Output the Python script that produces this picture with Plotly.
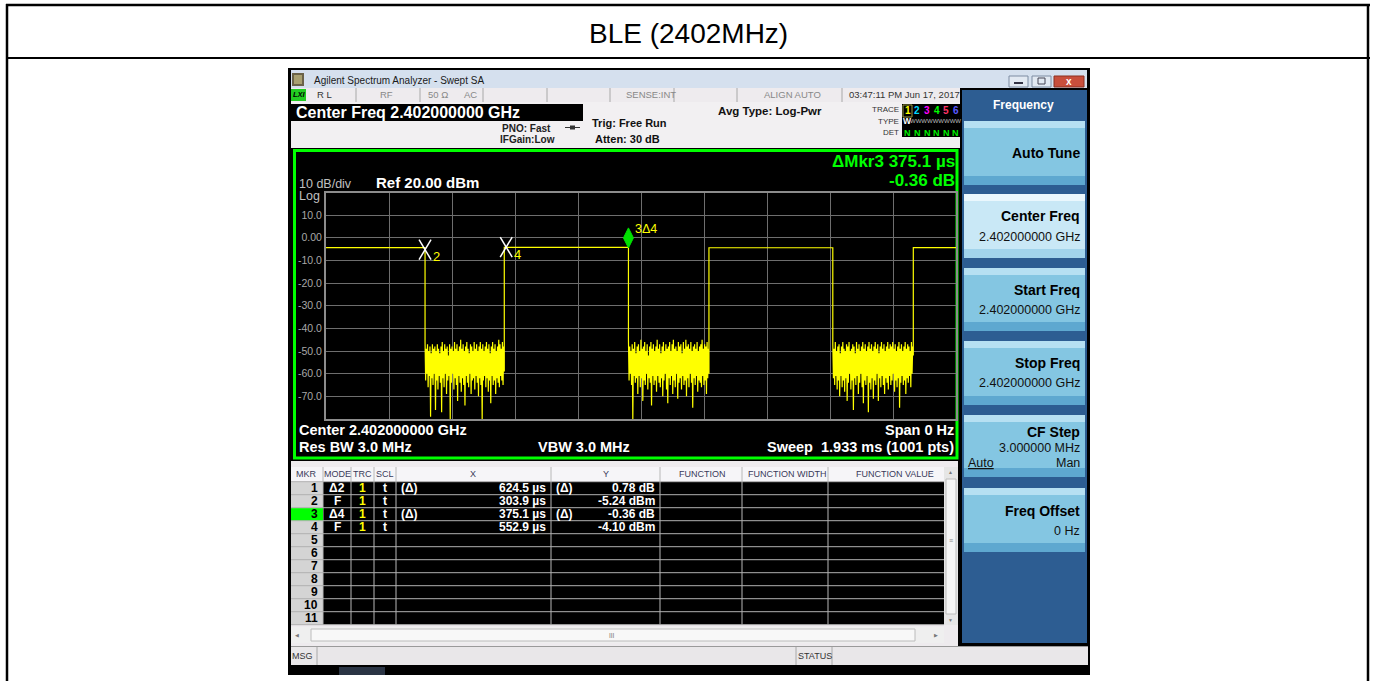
import numpy as np
import plotly.graph_objects as go

W, H = 1376, 681
FONT = "Liberation Sans"

# ---------------- data ----------------
sweep_ms = 1.933
y_range = [-80, 20]
y_tick_vals = [10, 0, -10, -20, -30, -40, -50, -60, -70]
y_tick_text = ["10.0", "0.00", "-10.0", "-20.0", "-30.0", "-40.0", "-50.0", "-60.0", "-70.0"]

burst_start_us = [0.0, 547.0, 1175.0, 1802.0]
burst_end_us = [303.9, 928.0, 1555.0, 1933.0]
burst_level_dbm = [-4.3, -4.2, -4.4, -4.3]

gap1_dbm = [-46, -63, -49, -60, -47, -66, -50, -61, -48, -79, -51, -62, -47, -65, -49, -60, -48, -76, -50, -63,
            -47, -67, -49, -61, -51, -64, -48, -77, -46, -62, -50, -66, -47, -60, -49, -69, -48, -63, -52, -61,
            -47, -80, -49, -64, -48, -60, -50, -67, -46, -62, -49, -65, -47, -72, -50, -61, -48, -64, -45, -68,
            -49, -62, -47, -65, -50, -74, -48, -61, -46, -64, -49, -66, -51, -60, -47, -69, -48, -63, -50, -62,
            -46, -67, -49, -61, -47, -64, -50, -70, -48, -62, -46, -65, -49, -80, -47, -63, -50, -61, -48, -66,
            -46, -62, -49, -68, -47, -63, -51, -73, -48, -61, -46, -65, -49, -63, -47, -69, -50, -62, -48, -64,
            -45, -66, -47, -61, -49, -63, -46, -65, -48, -59]
gap2_dbm = [-45, -63, -48, -60, -50, -65, -47, -80, -49, -61, -46, -64, -51, -62, -48, -69, -47, -61, -50, -66,
            -45, -62, -49, -72, -48, -63, -46, -65, -50, -60, -47, -67, -52, -62, -48, -64, -46, -74, -49, -61,
            -47, -65, -50, -63, -48, -68, -45, -61, -49, -64, -47, -66, -51, -62, -48, -70, -46, -63, -50, -60,
            -47, -67, -49, -73, -48, -62, -46, -65, -50, -61, -47, -69, -45, -63, -49, -66, -48, -60, -50, -71,
            -46, -64, -48, -62, -47, -67, -51, -61, -46, -65, -49, -63, -45, -70, -48, -62, -47, -66, -49, -60,
            -46, -64, -50, -75, -48, -62, -47, -65, -49, -61, -46, -68, -50, -63, -48, -64, -47, -66, -45, -61,
            -49, -65, -47, -63, -48, -69, -46, -62, -49, -60]
gap3_dbm = [-47, -62, -49, -65, -46, -61, -50, -67, -48, -63, -47, -70, -51, -61, -48, -66, -46, -63, -49, -68,
            -50, -62, -47, -72, -48, -64, -46, -60, -50, -67, -49, -63, -47, -76, -48, -62, -51, -65, -46, -61,
            -49, -69, -47, -64, -50, -60, -48, -66, -46, -73, -49, -63, -47, -65, -50, -61, -48, -77, -46, -64,
            -49, -67, -47, -62, -50, -71, -48, -63, -46, -65, -49, -60, -47, -72, -51, -62, -48, -66, -46, -61,
            -49, -65, -47, -69, -50, -62, -48, -64, -46, -67, -49, -61, -47, -65, -48, -63, -46, -60, -49, -68,
            -47, -63, -50, -66, -48, -62, -46, -75, -49, -64, -47, -61, -50, -65, -48, -63, -46, -69, -49, -62,
            -47, -64, -48, -61, -50, -66, -46, -60, -48, -52]
gaps_dbm = [gap1_dbm, gap2_dbm, gap3_dbm]

mkr_num = ["1", "2", "3", "4", "5", "6", "7", "8", "9", "10", "11"]
mkr_mode = ["Δ2", "F", "Δ4", "F"]
mkr_trc = ["1", "1", "1", "1"]
mkr_scl = ["t", "t", "t", "t"]
mkr_xdelta = ["(Δ)", "", "(Δ)", ""]
mkr_x = ["624.5 µs", "303.9 µs", "375.1 µs", "552.9 µs"]
mkr_ydelta = ["(Δ)", "", "(Δ)", ""]
mkr_y = ["0.78 dB", "-5.24 dBm", "-0.36 dB", "-4.10 dBm"]

m2_t_us, m2_dbm = 303.9, -5.24
m4_t_us, m4_dbm = 552.9, -4.10
m3_dt_us, m3_ddb = 375.1, -0.36

# ---------------- trace ----------------
xs, ys = [], []
for i in range(4):
    xs += [burst_start_us[i] / 1000, burst_end_us[i] / 1000]
    ys += [burst_level_dbm[i], burst_level_dbm[i]]
    if i < 3:
        g = gaps_dbm[i]
        t = np.linspace(burst_end_us[i], burst_start_us[i + 1], len(g)) / 1000
        xs += list(t)
        ys += list(g)

fig = go.Figure()
fig.add_trace(go.Scatter(x=xs, y=ys, mode="lines", line=dict(color="#ffff00", width=1.2),
                         hoverinfo="skip", showlegend=False))

shapes, annos = [], []


def rect(x0, y0, x1, y1, fill, lc=None, lw=0, layer="below"):
    shapes.append(dict(type="rect", xref="paper", yref="paper", x0=x0 / W, x1=x1 / W,
                       y0=1 - y1 / H, y1=1 - y0 / H, fillcolor=fill,
                       line=dict(color=lc or "rgba(0,0,0,0)", width=lw), layer=layer))


def hline(x0, x1, y, c, w=1, layer="below"):
    shapes.append(dict(type="line", xref="paper", yref="paper", x0=x0 / W, x1=x1 / W,
                       y0=1 - y / H, y1=1 - y / H, line=dict(color=c, width=w), layer=layer))


def vline(x, y0, y1, c, w=1, layer="below"):
    shapes.append(dict(type="line", xref="paper", yref="paper", x0=x / W, x1=x / W,
                       y0=1 - y0 / H, y1=1 - y1 / H, line=dict(color=c, width=w), layer=layer))


def txt(x, y, s, size=12, color="black", bold=False, anchor="left", family=FONT):
    annos.append(dict(xref="paper", yref="paper", x=x / W, y=1 - y / H, text=s, showarrow=False,
                      xanchor=anchor, yanchor="middle", borderpad=0,
                      font=dict(family=family, size=size, color=color,
                                weight="bold" if bold else "normal")))


# ---------- page frame ----------
hline(6, 1370, 5, "black", 2.5)
hline(6, 1370, 58, "black", 2)
vline(7, 4, 681, "black", 2.5)
vline(1368, 4, 681, "black", 2.5)
txt(689, 33, "BLE (2402MHz)", 28, "black", anchor="center")

# ---------- window ----------
rect(288, 68, 1090, 675, "black")
rect(291, 70, 1087, 88, "#d5e0ee")
rect(292, 73, 304, 86, "#6a6248")
rect(294, 75, 302, 84, "#a8a070")
txt(313, 80.5, "Agilent Spectrum Analyzer - Swept SA", 10, "#1a1a1a")
rect(1009, 76, 1028, 87, "#e2e9f2", "#7d8ca2", 1)
hline(1014, 1023, 83, "#334", 2)
rect(1032, 76, 1051, 87, "#e2e9f2", "#7d8ca2", 1)
rect(1038, 78, 1045, 84, "rgba(0,0,0,0)", "#445", 1)
rect(1054, 76, 1084, 87, "#c84f3c", "#8a3020", 1)
txt(1069, 81, "x", 10, "white", True, "center")

# status row
rect(291, 88, 960, 102, "#eeebee")
for sx in [356, 420, 483, 547, 610, 674, 737, 842]:
    vline(sx, 88, 102, "#a8a8a8")
rect(291, 89, 306, 101, "#22cc22")
txt(292, 95, "<i>LXI</i>", 7.5, "black", True)
txt(316, 95, "R L", 9.5, "#333")
txt(386, 95, "RF", 9.5, "#888", anchor="center")
txt(427, 95, "50 Ω", 9.5, "#888")
txt(463, 95, "AC", 9.5, "#888")
txt(625, 95, "SENSE:INT", 9.5, "#888")
txt(792, 95, "ALIGN AUTO", 9.5, "#888", anchor="center")
txt(848, 95, "03:47:11 PM Jun 17, 2017", 9.5, "#333")

# settings area
rect(291, 102, 960, 148, "#f2f0f2")
rect(291, 104, 583, 121, "black")
txt(295, 112.5, "Center Freq 2.402000000 GHz", 16, "white", True)
txt(552, 128, "PNO: Fast", 10, "#222", True, "right")
txt(556, 139, "IFGain:Low", 10, "#222", True, "right")
hline(565, 580, 127.5, "#333", 1)
rect(570, 125.5, 575, 129.5, "#333")
txt(591, 123, "Trig: Free Run", 11, "#111", True)
txt(594, 138.5, "Atten: 30 dB", 11, "#111", True)
txt(717, 110.5, "Avg Type: Log-Pwr", 11.5, "#111", True)
txt(900, 109.5, "TRACE", 8, "#333", anchor="right")
txt(900, 121, "TYPE", 8, "#333", anchor="right")
txt(900, 132.5, "DET", 8, "#333", anchor="right")
rect(902, 104, 960, 137, "black")
rect(903, 105, 912, 117, "rgba(0,0,0,0)", "#9a9a40", 1)
for tx, tn, tc in zip([907.5, 917.3, 927.3, 936.5, 946, 955.5], ["1", "2", "3", "4", "5", "6"],
                      ["#ffff00", "#00d8ff", "#ff00ff", "#00ff00", "#ff3366", "#5a5aff"]):
    txt(tx, 110.5, tn, 10, tc, True, "center")
txt(907.5, 121.5, "W", 8.5, "white", True, "center")
txt(935, 121.5, "WWWWWWWWW", 6, "#bdbdbd", anchor="center")
for tx in [907.5, 917.3, 927.3, 936.5, 946, 955.5]:
    txt(tx, 132.5, "N", 9, "#00ee00", True, "center")

# display
rect(291, 148, 958, 461, "black")
rect(294.5, 150.5, 957, 458, "rgba(0,0,0,0)", "#00ff00", 3)
txt(298, 184, "10 dB/div", 12.5, "#c0c0c0")
txt(298, 195.5, "Log", 12.5, "#c0c0c0")
txt(375, 183, "Ref 20.00 dBm", 15, "white", True)
txt(956, 162, "ΔMkr3 375.1 µs", 17, "#00ff00", True, "right")
txt(956, 180, "-0.36 dB", 17, "#00ff00", True, "right")
txt(298, 430, "Center 2.402000000 GHz", 14.5, "white", True)
txt(298, 447, "Res BW 3.0 MHz", 14.5, "white", True)
txt(537, 447, "VBW 3.0 MHz", 14.5, "white", True)
txt(955, 430, "Span 0 Hz", 14.5, "white", True, "right")
txt(955, 447, "Sweep\u00a0\u00a01.933 ms (1001 pts)", 14.5, "white", True, "right")

# marker table
rect(291, 461, 958, 646, "#eeebee")
rect(291, 467, 944, 481.7, "#f6f5f8")
rect(291, 481.7, 323, 624.7, "#d4d4d4")
rect(323, 481.7, 944, 624.7, "black")
col_edges = [323, 351, 374, 396, 551, 660, 742, 828]
for cx in col_edges:
    vline(cx, 467, 624.7, "#b8b8b8")
for k in range(12):
    hline(291, 944, 481.7 + 13 * k, "#b0b0b0")
rect(291, 482.2 + 26, 323, 494.2 + 26, "#00ff00")
heads = [("MKR", 306.5), ("MODE", 337), ("TRC", 362.5), ("SCL", 385), ("X", 473.5), ("Y", 605.5),
         ("FUNCTION", 702), ("FUNCTION WIDTH", 787), ("FUNCTION VALUE", 895)]
for hs, hx in heads:
    txt(hx, 474, hs, 9, "#3a3a5a", anchor="center")
for k, n in enumerate(mkr_num):
    yc = 488.2 + 13 * k
    txt(319, yc, n, 12, "black", True, "right")
for k in range(len(mkr_mode)):
    yc = 488.2 + 13 * k
    txt(337, yc, mkr_mode[k], 12, "white", True, "center")
    txt(362.5, yc, mkr_trc[k], 12, "#ffff00", True, "center")
    txt(385, yc, mkr_scl[k], 12, "white", True, "center")
    if mkr_xdelta[k]:
        txt(400, yc, mkr_xdelta[k], 12, "white", True)
    txt(547, yc, mkr_x[k], 12, "white", True, "right")
    if mkr_ydelta[k]:
        txt(555, yc, mkr_ydelta[k], 12, "white", True)
    txt(656, yc, mkr_y[k], 12, "white", True, "right")
# scrollbars
rect(944, 467, 958, 625, "#e6e6e6")
rect(946, 479, 956, 614, "#f5f5f5", "#bcbcbc", 1)
txt(951, 472, "▲", 5, "#777", anchor="center")
txt(951, 620, "▼", 5, "#777", anchor="center")
txt(951, 540, "≡", 7, "#888", anchor="center")
rect(291, 627, 944, 643, "#efefef")
rect(311, 629, 915, 641, "#f8f8f8", "#bcbcbc", 1)
txt(612, 635, "III", 6.5, "#777", anchor="center")
txt(297, 635, "◀", 5, "#777", anchor="center")
txt(936, 635, "▶", 5, "#777", anchor="center")

# status bar
rect(291, 646, 1088, 665, "#e9e7e9")
hline(291, 1088, 646.5, "#9a9a9a")
vline(317, 647, 665, "#a8a8a8")
vline(796, 647, 665, "#a8a8a8")
vline(832, 647, 665, "#a8a8a8")
txt(291, 656, "MSG", 9, "#333")
txt(797, 656, "STATUS", 9, "#333")
rect(339, 667, 385, 675, "#2a3444")

# soft keys
rect(962, 90, 1087, 643, "#2d5d92")
txt(1023, 105, "Frequency", 12, "white", True, "center")
keys = [(121, 185, False), (194, 258, True), (268, 331, False), (341, 405, False), (415, 477, False),
        (488, 552, False)]
for y0, y1, sel in keys:
    rect(964, y0, 1085, y1, "#c9e8f6" if sel else "#84c6e2")
    rect(964, y0, 1085, y0 + 7, "#eaf7fd" if sel else "#b6e0f2")
    rect(964, y1 - 9, 1085, y1, "#a2d4ec" if sel else "#5ea8d0")
txt(1081, 153, "Auto Tune", 14, "black", True, "right")
txt(1081, 216, "Center Freq", 14, "black", True, "right")
txt(1081, 237, "2.402000000 GHz", 12.5, "#111", anchor="right")
txt(1081, 290, "Start Freq", 14, "black", True, "right")
txt(1081, 310, "2.402000000 GHz", 12.5, "#111", anchor="right")
txt(1081, 363, "Stop Freq", 14, "black", True, "right")
txt(1081, 383, "2.402000000 GHz", 12.5, "#111", anchor="right")
txt(1081, 432, "CF Step", 14, "black", True, "right")
txt(1081, 447.5, "3.000000 MHz", 12.5, "#111", anchor="right")
txt(967, 463, "<u>Auto</u>", 12.5, "#111")
txt(1081, 463, "Man", 12.5, "#111", anchor="right")
txt(1081, 511, "Freq Offset", 14, "black", True, "right")
txt(1081, 531, "0 Hz", 12.5, "#111", anchor="right")

# ---------- markers on the trace ----------
m3_t_us = m4_t_us + m3_dt_us
m3_dbm = m4_dbm + m3_ddb
for mt, md, lab in [(m2_t_us, m2_dbm, "2"), (m4_t_us, m4_dbm, "4")]:
    for (a0, b0, a1, b1) in [(-6, -10, 6, 10), (-6, 10, 6, -10)]:
        shapes.append(dict(type="line", xref="x", yref="y", xsizemode="pixel", ysizemode="pixel",
                           xanchor=mt / 1000, yanchor=md, x0=a0, x1=a1, y0=b0, y1=b1,
                           line=dict(color="white", width=1.5), layer="above"))
    annos.append(dict(xref="x", yref="y", x=mt / 1000, y=md, text=lab, showarrow=False,
                      xshift=11, yshift=-7, font=dict(family=FONT, size=13, color="#ffff00")))
shapes.append(dict(type="path", xref="x", yref="y", xsizemode="pixel", ysizemode="pixel",
                   xanchor=m3_t_us / 1000, yanchor=m3_dbm, path="M0,0 L5,10 L0,20 L-5,10 Z",
                   fillcolor="#00e000", line=dict(color="#00e000", width=1), layer="above"))
annos.append(dict(xref="x", yref="y", x=m3_t_us / 1000, y=m3_dbm, text="3Δ4", showarrow=False,
                  xanchor="left", xshift=5, yshift=19, font=dict(family=FONT, size=12.5, color="#ffff00")))

grid_c = "#6e6e6e"
fig.update_layout(
    template="none", width=W, height=H, autosize=False,
    margin=dict(l=0, r=0, t=0, b=0, pad=0),
    paper_bgcolor="white", plot_bgcolor="black",
    xaxis=dict(domain=[326 / W, 956 / W], range=[0, sweep_ms], tick0=0, dtick=sweep_ms / 10,
               showticklabels=False, ticks="", showgrid=True, gridcolor=grid_c, gridwidth=1.2,
               zeroline=False, showline=True, mirror=True, linecolor="#8c8c8c", linewidth=2),
    yaxis=dict(domain=[1 - 419 / H, 1 - 192.5 / H], range=y_range, tickvals=y_tick_vals,
               ticktext=y_tick_text, ticks="", showgrid=True, gridcolor=grid_c, gridwidth=1.2,
               zeroline=False, showline=True, mirror=True, linecolor="#8c8c8c", linewidth=2,
               tickfont=dict(family=FONT, size=10.5, color="#a8a8a8")),
    shapes=shapes, annotations=annos, showlegend=False,
)
fig.write_html("out.html", config={"displayModeBar": False},
               post_script="document.body.style.margin='0px';document.body.style.overflow='hidden';")
